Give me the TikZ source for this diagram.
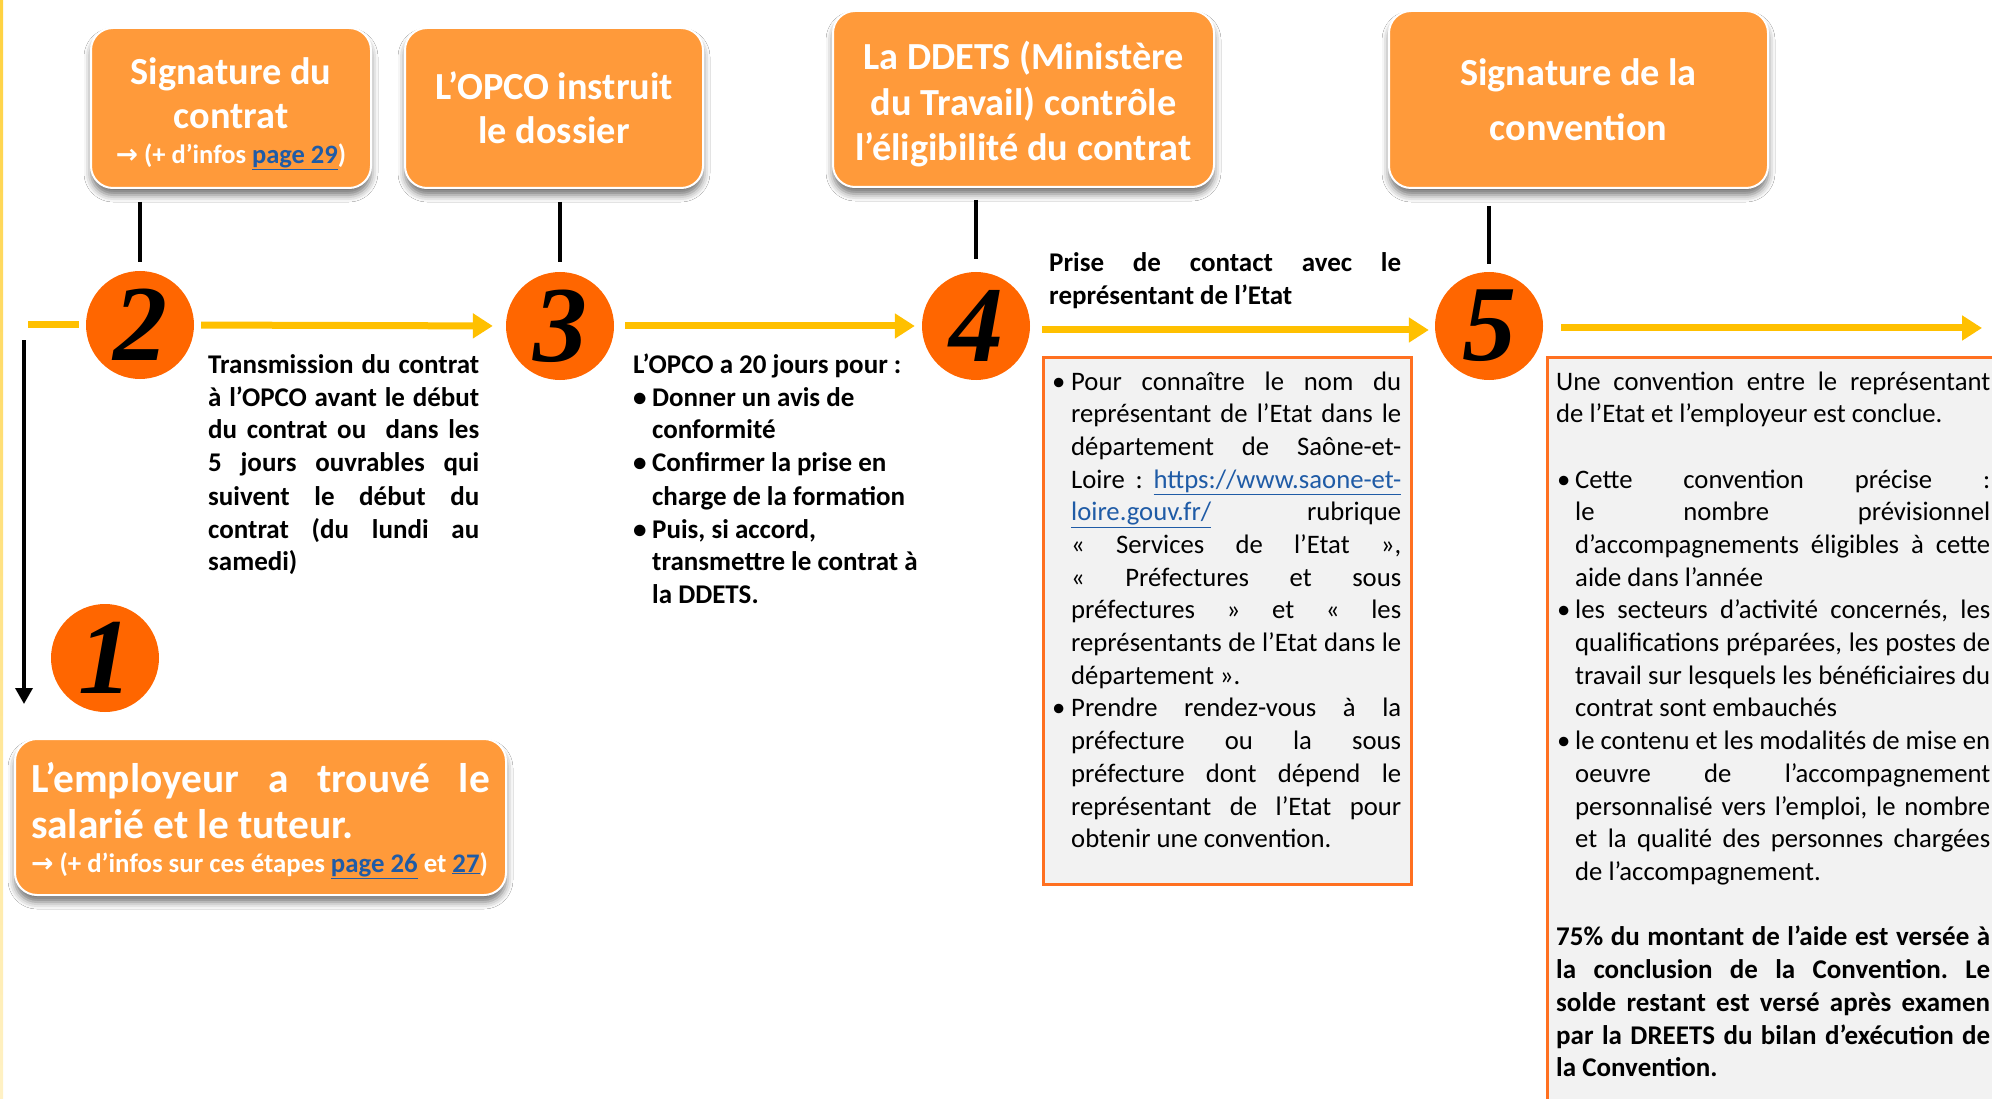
\documentclass[tikz,border=0pt]{standalone}
\usepackage{fontspec}
\setmainfont{Carlito}
\newfontfamily\numfont{Liberation Serif}
\newfontfamily\symfont{DejaVu Sans}
\usetikzlibrary{arrows.meta,shadows.blur}
\frenchspacing

\definecolor{boxorange}{HTML}{FF9A3A}
\definecolor{circorange}{HTML}{FF6600}
\definecolor{flowyellow}{HTML}{FFC000}
\definecolor{panelgray}{HTML}{F2F2F2}
\definecolor{paneledge}{HTML}{FF7020}
\definecolor{linkblue}{HTML}{1F5BA6}
\definecolor{edgeyellow}{HTML}{FFD23F}

% justified lines and bullet items with fixed line breaks
\newlength\colw
\newlength\bulind
\newlength\bulpre
\newcommand\nsp{\spaceskip=0pt\xspaceskip=0pt\frenchspacing\relax}
\newcommand\jl[1]{\makebox[\colw][s]{\nsp#1}}
\newcommand\bl[1]{\makebox[\bulind][l]{\hspace*{\bulpre}\textbullet}\makebox[\dimexpr\colw-\bulind\relax][s]{\nsp#1}}
\newcommand\blast[1]{\makebox[\bulind][l]{\hspace*{\bulpre}\textbullet}#1}
\newcommand\il[1]{\hspace*{\bulind}\makebox[\dimexpr\colw-\bulind\relax][s]{\nsp#1}}
\newcommand\ilast[1]{\hspace*{\bulind}#1}
\newcommand\lnk[1]{\textcolor{linkblue}{\underline{#1}}}
\newcommand\arr{{\symfont\bfseries →}}
% strut raising the first line of a box title
\newcommand\topstrut[1]{\rule{0pt}{#1}}

\begin{document}
\begin{tikzpicture}[x=1pt,y=-1pt,
  headbox/.style={rounded corners=22pt, fill=boxorange, draw=white, line width=2pt,
    blur shadow={shadow xshift=0pt, shadow yshift=-7pt, shadow blur radius=7pt, shadow opacity=55},
    text=white, align=center, inner sep=0pt, font=\bfseries\fontsize{38.3}{44}\selectfont},
  stepnum/.style={circle, fill=circorange, minimum size=108pt, inner sep=0pt,
    font=\numfont\bfseries\itshape\fontsize{108}{108}\selectfont},
  flow/.style={draw=flowyellow, line width=7pt, -{Triangle[length=20pt,width=24pt]}},
  flowstub/.style={draw=flowyellow, line width=7pt},
  tie/.style={draw=black, line width=3.5pt},
  panel/.style={draw=paneledge, fill=panelgray, line width=2.5pt, inner sep=0pt},
  bodytext/.style={anchor=base west, inner sep=0pt, align=left, font=\fontsize{26.7}{32.7}\selectfont},
  boldtext/.style={bodytext, font=\bfseries\fontsize{27}{33}\selectfont},
]
\useasboundingbox (0,0) rectangle (1992,1099);
\clip (0,0) rectangle (1992,1099);
\fill[white] (0,0) rectangle (1992,1099);
% yellow rule along the left edge of the page
\shade[top color=edgeyellow, bottom color=edgeyellow!30] (0,0) rectangle (3,1099);

% headline boxes
\node[headbox, minimum width=280pt, minimum height=160pt] (sign) at (231,108)
  {\nsp\topstrut{38pt}Signature du\\contrat\\[-9pt]{\fontsize{26.5}{30}\selectfont\nsp\arr\ (+ d’infos \lnk{page 29})}};
\node[headbox, minimum width=298pt, minimum height=160pt] (opco) at (554,108)
  {\nsp L’OPCO instruit\\le dossier};
\node[headbox, minimum width=381pt, minimum height=176pt, font=\bfseries\fontsize{38.3}{45.5}\selectfont] (ddets) at (1023.5,99)
  {\nsp\topstrut{39pt}La DDETS (Ministère\\du Travail) contrôle\\l’éligibilité du contrat};
\node[headbox, minimum width=379pt, minimum height=177pt, font=\bfseries\fontsize{38.3}{55}\selectfont] (conv) at (1578.5,99.5)
  {\nsp Signature de la\\convention};
\node[headbox, minimum width=491pt, minimum height=156pt, align=left, text width=459pt,
  font=\bfseries\fontsize{41.4}{46}\selectfont] (emp) at (260.5,817)
  {\setlength\colw{459pt}\nsp
   \topstrut{37pt}\jl{L’employeur a trouvé le}\\salarié et le tuteur.\\[-12pt]%
   \mbox{\fontsize{26.8}{30}\selectfont\nsp\arr\ (+ d’infos sur ces étapes \lnk{page 26} et \lnk{27})}};

% numbered steps
\node[stepnum] (n1) at (105,658) {1};
\node[stepnum] (n2) at (140,325) {2};
\node[stepnum] (n3) at (560,326) {3};
\node[stepnum] (n4) at (976,326) {4};
\node[stepnum] (n5) at (1489,326) {5};

% ties between boxes and steps
\draw[tie, shorten <=13pt, shorten >=9pt] (n2.north |- sign.south) -- (n2.north);
\draw[tie, shorten <=13pt, shorten >=10pt] (n3.north |- opco.south) -- (n3.north);
\draw[tie, shorten <=12pt, shorten >=13pt] (n4.north |- ddets.south) -- (n4.north);
\draw[tie, shorten <=17pt, shorten >=8pt] (n5.north |- conv.south) -- (n5.north);

% flow arrows
\coordinate (flowin) at (28,325);
\coordinate (flowout) at (1982,328);
\draw[flowstub, shorten >=7pt] (flowin) -- (n2.west);
\draw[flow, shorten <=7pt, shorten >=13pt] (n2.east) -- (n3.west);
\draw[flow, shorten <=11pt, shorten >=7pt] (n3.east) -- (n4.west);
\draw[flow, shorten <=12pt, shorten >=6pt] ([yshift=-4pt]n4.east) -- ([yshift=-4pt]n5.west);
\draw[flow, shorten <=18pt] (n5.east |- flowout) -- (flowout);

% downward arrow to the first step
\coordinate (downtop) at (24,340);
\draw[draw=black, line width=3.5pt, -{Triangle[length=16pt,width=17pt]}, shorten >=34pt] (downtop) -- (downtop |- emp.north);

% step texts
\node[boldtext, text width=271pt] (d2) at (208,373)
  {\setlength\colw{271pt}\nsp
   \jl{Transmission du contrat}\\
   \jl{à l’OPCO avant le début}\\
   \jl{du contrat ou \ dans les}\\
   \jl{5 jours ouvrables qui}\\
   \jl{suivent le début du}\\
   \jl{contrat (du lundi au}\\
   samedi)};

\node[boldtext, text width=300pt] (d3) at (633,373)
  {\setlength\bulind{19pt}\setlength\bulpre{0pt}\nsp
   L’OPCO a 20 jours pour :\\
   \blast{Donner un avis de}\\
   \ilast{conformité}\\
   \blast{Confirmer la prise en}\\
   \ilast{charge de la formation}\\
   \blast{Puis, si accord,}\\
   \ilast{transmettre le contrat à}\\
   \ilast{la DDETS.}};

\node[boldtext, text width=352pt] (d4) at (1049,272)
  {\setlength\colw{352pt}\nsp
   \jl{Prise de contact avec le}\\représentant de l’Etat};

% panel of step 4
\node[panel, anchor=north west, minimum width=368pt, minimum height=527pt] (p4) at (1042,356) {};
\node[bodytext, text width=349pt] (t4) at (1052,390)
  {\setlength\colw{349pt}\setlength\bulind{19pt}\setlength\bulpre{0pt}\nsp
   \bl{Pour connaître le nom du}\\
   \il{représentant de l’Etat dans le}\\
   \il{département de Saône-et-}\\
   \il{Loire : \lnk{https://www.saone-et-}}\\
   \il{\lnk{loire.gouv.fr/} rubrique}\\
   \il{« Services de l’Etat »,}\\
   \il{« Préfectures et sous}\\
   \il{préfectures » et « les}\\
   \il{représentants de l’Etat dans le}\\
   \ilast{département ».}\\
   \bl{Prendre rendez-vous à la}\\
   \il{préfecture ou la sous}\\
   \il{préfecture dont dépend le}\\
   \il{représentant de l’Etat pour}\\
   \ilast{obtenir une convention.}};

% panel of step 5
\node[panel, anchor=north west, minimum width=470pt, minimum height=780pt] (p5) at (1546,356) {};
\node[bodytext, text width=434pt] (t5) at (1556,390)
  {\setlength\colw{434pt}\setlength\bulind{19pt}\setlength\bulpre{1pt}\nsp
   \jl{Une convention entre le représentant}\\
   de l’Etat et l’employeur est conclue.\\[32.7pt]
   \bl{Cette convention précise :}\\
   \il{le nombre prévisionnel}\\
   \il{d’accompagnements éligibles à cette}\\
   \ilast{aide dans l’année}\\
   \bl{les secteurs d’activité concernés, les}\\
   \il{qualifications préparées, les postes de}\\
   \il{travail sur lesquels les bénéficiaires du}\\
   \ilast{contrat sont embauchés}\\
   \bl{le contenu et les modalités de mise en}\\
   \il{oeuvre de l’accompagnement}\\
   \il{personnalisé vers l’emploi, le nombre}\\
   \il{et la qualité des personnes chargées}\\
   \ilast{de l’accompagnement.}\\[32.7pt]
   {\bfseries\fontsize{27}{32.7}\selectfont\nsp
   \jl{75\% du montant de l’aide est versée à}\\
   \jl{la conclusion de la Convention. Le}\\
   \jl{solde restant est versé après examen}\\
   \jl{par la DREETS du bilan d’exécution de}\\
   la Convention.}};
\end{tikzpicture}
\end{document}
